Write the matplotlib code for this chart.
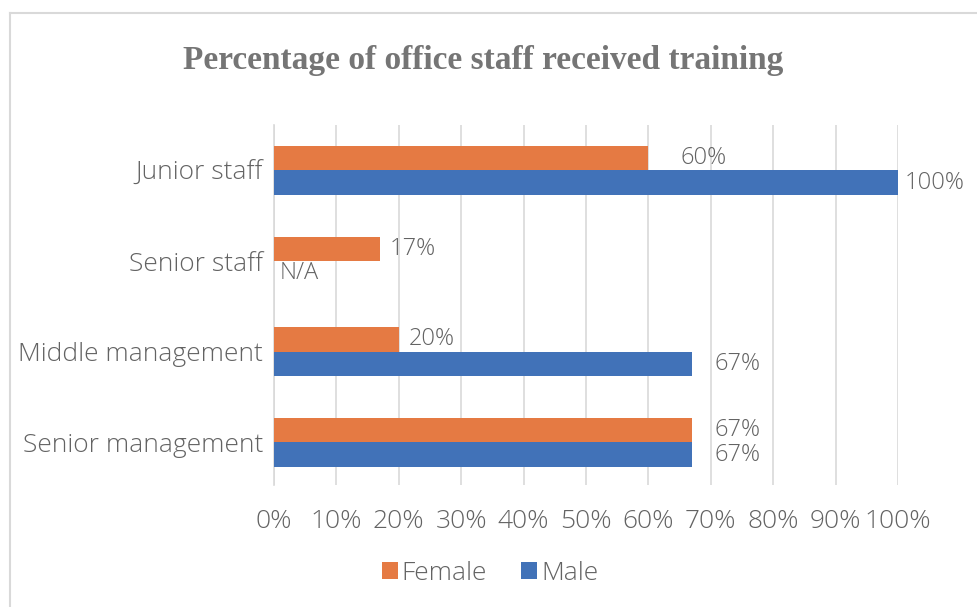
import numpy as np
import matplotlib
matplotlib.use("Agg")
import matplotlib.pyplot as plt
from matplotlib.lines import Line2D

# datos
categorias = ["Senior management", "Middle management", "Senior staff", "Junior staff"]
female = [67, 20, 17, 60]
male = [67, 67, None, 100]
etiquetas_f = ["67%", "20%", "17%", "60%"]
etiquetas_m = ["67%", "67%", "N/A", "100%"]
xticks = [0, 10, 20, 30, 40, 50, 60, 70, 80, 90, 100]

naranja = "#E57A43"
azul = "#4172B8"
gris = "#636363"

plt.rcParams["font.family"] = ["Open Sans", "DejaVu Sans"]
plt.rcParams["font.weight"] = "light"

fig = plt.figure(figsize=(9.77, 6.07), dpi=100)
ax = fig.add_axes([274/977, 1-485/607, (898-274)/977, (485-125)/607])

y = np.arange(len(categorias))
h = 0.27
mv = [v if v is not None else 0 for v in male]
ax.barh(y + h/2, female, height=h, color=naranja, label="Female", zorder=3)
ax.barh(y - h/2, mv, height=h, color=azul, label="Male", zorder=3)

# separacion de etiquetas (pixeles aprox.)
pad_f = [22, 10, 10, 32]
pad_m = [22, 22, 6, 7]
for i in range(len(categorias)):
    ax.annotate(etiquetas_f[i], (female[i], y[i] + h/2), xytext=(pad_f[i]*0.72, 0),
                textcoords="offset points", va="center", ha="left", fontsize=17, color=gris)
    ax.annotate(etiquetas_m[i], (mv[i], y[i] - h/2), xytext=(pad_m[i]*0.72, 0),
                textcoords="offset points", va="center", ha="left", fontsize=17, color=gris)

ax.set_xlim(0, 100)
ax.set_ylim(-0.47, 3.5)
ax.set_xticks(xticks)
ax.set_xticklabels([str(t) + "%" for t in xticks])
ax.set_yticks(y)
ax.set_yticklabels(categorias)
ax.tick_params(axis="both", length=0, labelsize=19, colors=gris)
ax.tick_params(axis="x", pad=17)
ax.tick_params(axis="y", pad=8)
ax.grid(axis="x", color="#D9D9D9", linewidth=1.2, zorder=0)
for s in ["top", "right", "bottom"]:
    ax.spines[s].set_visible(False)
ax.spines["left"].set_color("#D9D9D9")
ax.spines["left"].set_linewidth(1.2)

fig.text(483/977, 1-60/607, "Percentage of office staff received training",
         ha="center", va="center", fontsize=24, fontweight="bold",
         family="Liberation Serif", color="#757575")

leg = fig.legend(loc="center", bbox_to_anchor=(490/977, 1-573/607), ncol=2,
                 frameon=False, fontsize=19, handlelength=0.6, handleheight=0.6,
                 handletextpad=0.15, columnspacing=1.3)
for t in leg.get_texts():
    t.set_color(gris)

# marco
fig.add_artist(Line2D([10/977, 1], [1-13/607, 1-13/607], color="#D9D9D9", lw=1.5))
fig.add_artist(Line2D([10/977, 10/977], [0, 1-13/607], color="#D9D9D9", lw=1.5))

fig.savefig("out.png", dpi=100, facecolor="white")
